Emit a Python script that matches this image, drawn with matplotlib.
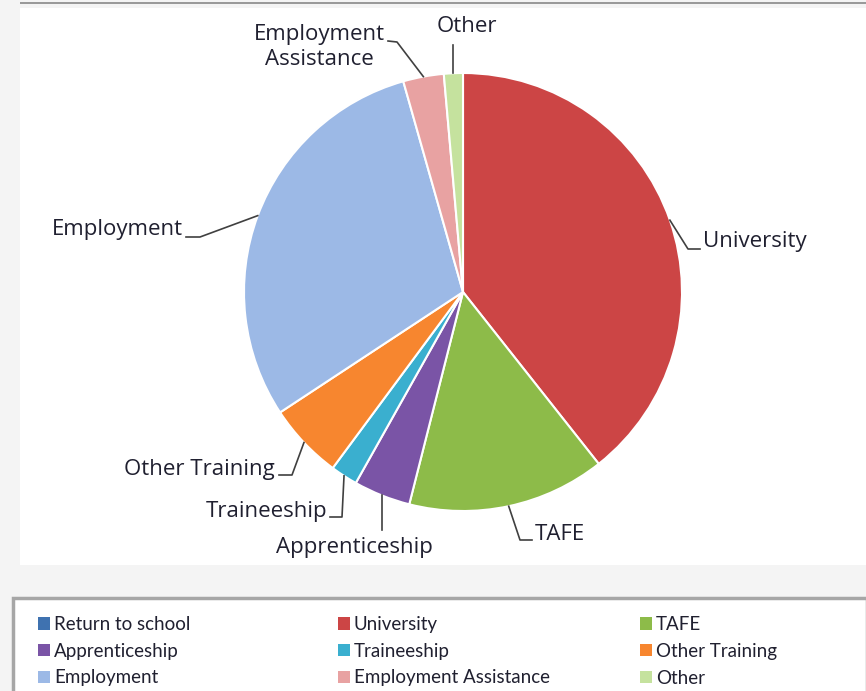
import numpy as np
import matplotlib.pyplot as plt
from matplotlib.patches import Rectangle
from matplotlib.legend import Legend

# Data (percent of leavers)
categories = ["Return to school", "University", "TAFE", "Apprenticeship", "Traineeship",
              "Other Training", "Employment", "Employment Assistance", "Other"]
shares = [0.0, 39.4, 14.6, 4.2, 2.0, 5.6, 29.9, 3.0, 1.4]
colors = ["#3F72B0", "#CC4545", "#8DBB49", "#7A54A6", "#3AAFCF",
          "#F7862F", "#9CB9E6", "#E8A2A2", "#C5E29E"]

plt.rcParams['font.family'] = ['Open Sans', 'DejaVu Sans']

W, H = 866, 691
fig = plt.figure(figsize=(W / 100, H / 100), dpi=100, facecolor="#f4f4f4")
ax = fig.add_axes([0, 0, 1, 1])
ax.patch.set_visible(False)

# white chart panel, top rule, legend box (pixel coords, y up)
ax.add_patch(Rectangle((20, H - 565), W - 20, 565 - 8, facecolor="white", edgecolor="none", zorder=0))
ax.add_patch(Rectangle((20, H - 4), W - 20, 2, facecolor="#9a9a9a", edgecolor="none", zorder=0))
ax.add_patch(Rectangle((13, -5), W - 12, H - 598 + 5, facecolor="white",
                       edgecolor="#a6a6a6", linewidth=2.5, zorder=0))

cx, cy, r = 463, H - 292, 219
wedges, _ = ax.pie(shares, colors=colors, startangle=90, counterclock=False,
                   center=(cx, cy), radius=r, frame=True,
                   wedgeprops=dict(edgecolor="white", linewidth=1.5, zorder=2))
ax.set_xlim(0, W)
ax.set_ylim(0, H)
ax.axis("off")

# label text position (pixels from top-left), alignment, elbow/end points for leader line
# (None as x means straight down/up from the wedge)
labels = {
    "University": ((703, 241), "left", [(688, 249), (700, 249)]),
    "TAFE": ((535, 535), "left", [(520, 540), (532, 540)]),
    "Apprenticeship": ((354, 548), "center", [(None, 530)]),
    "Traineeship": ((327, 511), "right", [(342, 517), (330, 517)]),
    "Other Training": ((275, 469), "right", [(292, 475), (279, 475)]),
    "Employment": ((183, 229), "right", [(200, 237), (186, 237)]),
    "Employment Assistance": ((319, 47), "center", [(397, 42), (388, 41)]),
    "Other": ((467, 26), "center", [(None, 45)]),
}

for w, name in zip(wedges, categories):
    if name not in labels:
        continue
    (tx, ty), ha, pts = labels[name]
    mid = np.deg2rad((w.theta1 + w.theta2) / 2)
    ax_x, ax_y = cx + r * np.cos(mid), cy + r * np.sin(mid)
    xs = [ax_x] + [ax_x if p[0] is None else p[0] for p in pts]
    ys = [ax_y] + [H - p[1] for p in pts]
    ax.plot(xs, ys, color="#404040", lw=1.2, zorder=3)
    txt = "Employment\nAssistance" if name == "Employment Assistance" else name
    ax.text(tx, H - ty, txt, ha=ha, va="center", fontsize=16, color="#202030",
            linespacing=1.25, zorder=3)

# legend: three columns, filled row by row
handles = [Rectangle((0, 0), 1, 1, facecolor=c, edgecolor="none") for c in colors]
col_x = [38, 338, 640]
for j, x0 in enumerate(col_x):
    idx = [j, j + 3, j + 6]
    leg = Legend(ax, [handles[i] for i in idx], [categories[i] for i in idx],
                 loc="upper left", bbox_to_anchor=(x0, H - 616), bbox_transform=ax.transData,
                 frameon=False, borderpad=0, borderaxespad=0,
                 handlelength=0.65, handleheight=0.65, handletextpad=0.2,
                 labelspacing=0.52, prop={"family": "Lato", "size": 13.5})
    for t in leg.get_texts():
        t.set_color("#202030")
    ax.add_artist(leg)

fig.savefig("out.png", dpi=100, facecolor=fig.get_facecolor())
